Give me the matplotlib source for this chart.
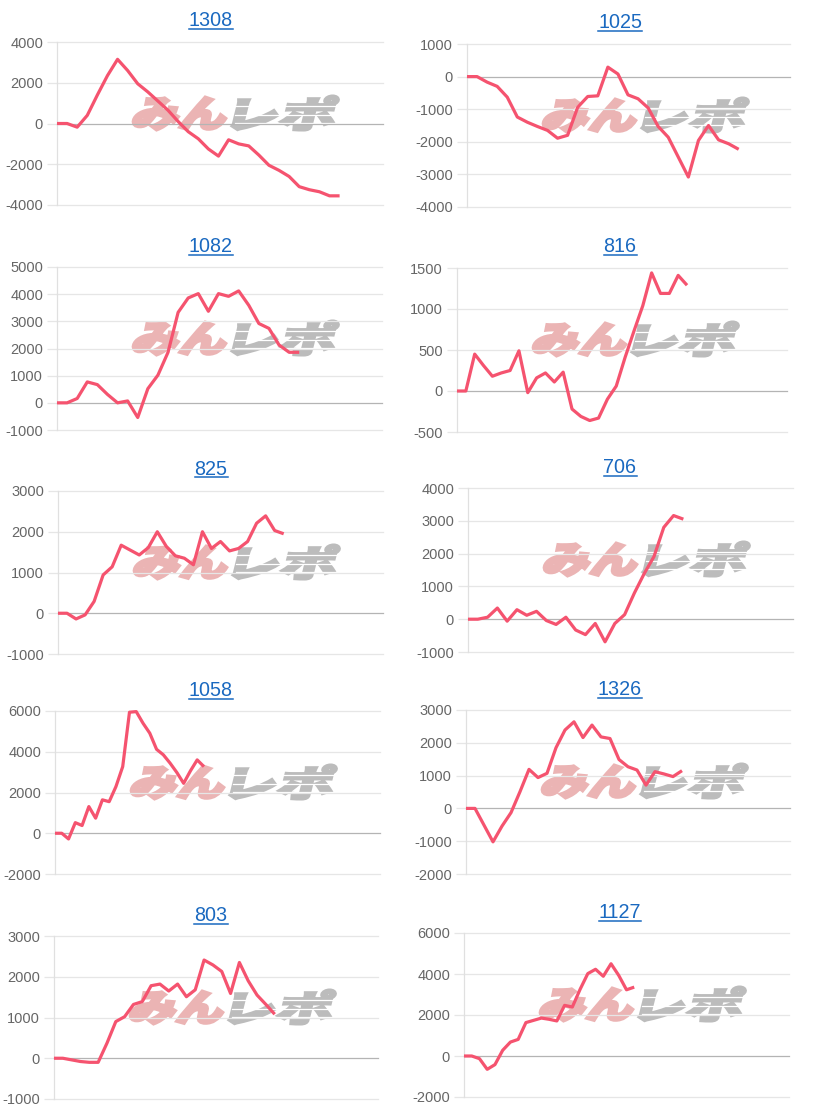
import matplotlib
matplotlib.use('Agg')
import matplotlib.pyplot as plt
from matplotlib.textpath import TextPath
from matplotlib.patches import PathPatch
from matplotlib.font_manager import FontProperties
from matplotlib.transforms import Affine2D
from matplotlib.lines import Line2D

plt.rcParams['axes.unicode_minus'] = False

# panel titles (machine numbers)
titles = ['1308', '1025', '1082', '816', '825', '706', '1058', '1326', '803', '1127']

# cumulative differences
v1308 = [0, 0, -180, 400, 1400, 2350, 3150, 2600, 1950, 1550, 1100, 650, 100, -400,
         -750, -1250, -1600, -800, -1000, -1100, -1550, -2050, -2300, -2600, -3100,
         -3250, -3350, -3550, -3550]
v1025 = [0, 0, -170, -300, -630, -1240, -1400, -1530, -1650, -1890, -1800, -940, -610,
         -590, 290, 80, -560, -680, -960, -1530, -1860, -2470, -3080, -1960, -1500,
         -1940, -2060, -2230]
v1082 = [0, 0, 160, 770, 670, 310, 0, 70, -540, 520, 1020, 1860, 3330, 3860, 4020,
         3370, 4020, 3920, 4120, 3590, 2920, 2740, 2130, 1860, 1860]
v816 = [0, 0, 450, 310, 180, 220, 250, 490, -20, 160, 220, 110, 230, -220, -310, -360,
        -330, -100, 60, 410, 730, 1040, 1440, 1190, 1190, 1410, 1290]
v825 = [0, 0, -140, -40, 290, 940, 1140, 1670, 1550, 1430, 1610, 2000, 1640, 1410,
        1350, 1190, 2000, 1590, 1760, 1530, 1590, 1760, 2210, 2390, 2030, 1950]
v706 = [0, 0, 60, 340, -60, 290, 120, 240, -40, -160, 60, -330, -470, -130, -690,
        -130, 140, 800, 1390, 1910, 2800, 3160, 3050]
v1058 = [0, 0, -280, 520, 380, 1310, 740, 1640, 1550, 2290, 3270, 5940, 5970, 5400,
         4910, 4120, 3850, 3440, 2980, 2450, 3060, 3600, 3270]
v1326 = [0, 0, -510, -1020, -540, -130, 510, 1190, 940, 1070, 1850, 2390, 2640, 2160,
         2540, 2180, 2130, 1490, 1270, 1170, 710, 1120, 1050, 970, 1150]
v803 = [0, 0, -40, -80, -100, -100, 370, 900, 1020, 1320, 1390, 1780, 1820, 1650, 1820,
        1510, 1680, 2410, 2290, 2130, 1590, 2350, 1900, 1550, 1320, 1080]
v1127 = [0, 0, -130, -650, -420, 280, 680, 810, 1630, 1740, 1850, 1790, 1710, 2470,
         2390, 3250, 4020, 4230, 3890, 4500, 3930, 3230, 3360]

series = [v1308, v1025, v1082, v816, v825, v706, v1058, v1326, v803, v1127]

yticks = [
    [-4000, -2000, 0, 2000, 4000],
    [-4000, -3000, -2000, -1000, 0, 1000],
    [-1000, 0, 1000, 2000, 3000, 4000, 5000],
    [-500, 0, 500, 1000, 1500],
    [-1000, 0, 1000, 2000, 3000],
    [-1000, 0, 1000, 2000, 3000, 4000],
    [-2000, 0, 2000, 4000, 6000],
    [-2000, -1000, 0, 1000, 2000, 3000],
    [-1000, 0, 1000, 2000, 3000],
    [-2000, 0, 2000, 4000, 6000],
]

# number of label slots on each x axis
x_span = [32.3, 32.1, 32.2, 37.3, 36, 33.2, 48, 36, 36.7, 42]

# layout in pixels: left, top, right, bottom of each plot area
W, H = 815, 1110
boxes = [(57, 42, 383, 205), (467, 44, 790, 207),
         (57, 267, 382, 430), (457, 268, 787, 432),
         (58, 491, 383, 654), (468, 488, 793, 652),
         (55, 711, 380, 874), (466, 710, 790, 874),
         (54, 936, 378, 1099), (464, 933, 789, 1097)]
title_base = [26, 28, 252, 252, 475, 473, 696, 695, 921, 918]
title_cx = [211, 620]

LINE = '#f5536f'
GRID = '#e6e6e6'
ZERO = '#b4b4b4'
LINK = '#1a69c0'

fig = plt.figure(figsize=(W / 100, H / 100), dpi=100)
renderer = fig.canvas.get_renderer()
wm_font = FontProperties(family='Noto Sans CJK JP', weight='heavy')


def stamp(ax, text, x0, top, w, h, color):
    # skewed, thickened watermark glyphs placed in figure pixels
    path = TextPath((0, 0), text, size=100, prop=wm_font)
    ext = path.get_extents()
    tr = (Affine2D().translate(-ext.x0, -ext.y0)
          .scale(w / ext.width, h / ext.height)
          .skew_deg(14, 0)
          .translate(x0 - 4, H - top - h))
    ax.add_patch(PathPatch(path, transform=tr, fc=color, ec=color, lw=2.2,
                           zorder=2, clip_on=False))


for i, (name, vals) in enumerate(zip(titles, series)):
    l, t, r, b = boxes[i]
    ax = fig.add_axes([l / W, 1 - b / H, (r - l) / W, (b - t) / H])
    ax.set_facecolor('none')

    ticks = yticks[i]
    for tk in ticks:
        ax.axhline(tk, color=ZERO if tk == 0 else GRID, lw=0.9, zorder=2.5, clip_on=False)

    # watermark
    wx, wy = l + 78, t + 55
    stamp(ax, 'みん', wx, wy, 92, 33, '#ebb4b4')
    stamp(ax, 'レポ', wx + 100, wy - 1, 100, 34, '#bcbcbc')
    for f in (0.3, 0.55, 0.8):
        yy = H - (wy - 1) - 34 * f
        ax.add_line(Line2D([wx + 100, wx + 206], [yy, yy], transform=None,
                           color='white', lw=0.9, zorder=2.1))

    ax.plot(range(len(vals)), vals, color=LINE, lw=2.3, zorder=3,
            solid_joinstyle='round', solid_capstyle='butt', clip_on=False)

    ax.set_xlim(0, x_span[i])
    ax.set_ylim(ticks[0], ticks[-1])
    ax.set_yticks(ticks)
    ax.set_xticks([])
    for s in ['top', 'right', 'bottom']:
        ax.spines[s].set_visible(False)
    ax.spines['left'].set_color('#e0e0e0')
    ax.spines['left'].set_linewidth(0.9)
    ax.tick_params(axis='y', length=7.5, width=0.9, color=GRID, pad=2.5,
                   labelsize=10.5, labelcolor='#666666')
    for lab in ax.get_yticklabels():
        lab.set_family('Liberation Sans')

    # title with underline
    cx = title_cx[i % 2]
    ty = 1 - title_base[i] / H
    txt = fig.text(cx / W, ty, name, ha='center', va='baseline', color=LINK,
                   fontsize=14.2, family='Liberation Sans')
    bb = txt.get_window_extent(renderer=renderer)
    uy = 1 - (title_base[i] + 2.5) / H
    fig.add_artist(Line2D([bb.x0 / W, bb.x1 / W], [uy, uy], color=LINK, lw=1.1,
                          transform=fig.transFigure))

fig.savefig('out.png', dpi=100, facecolor='white')
